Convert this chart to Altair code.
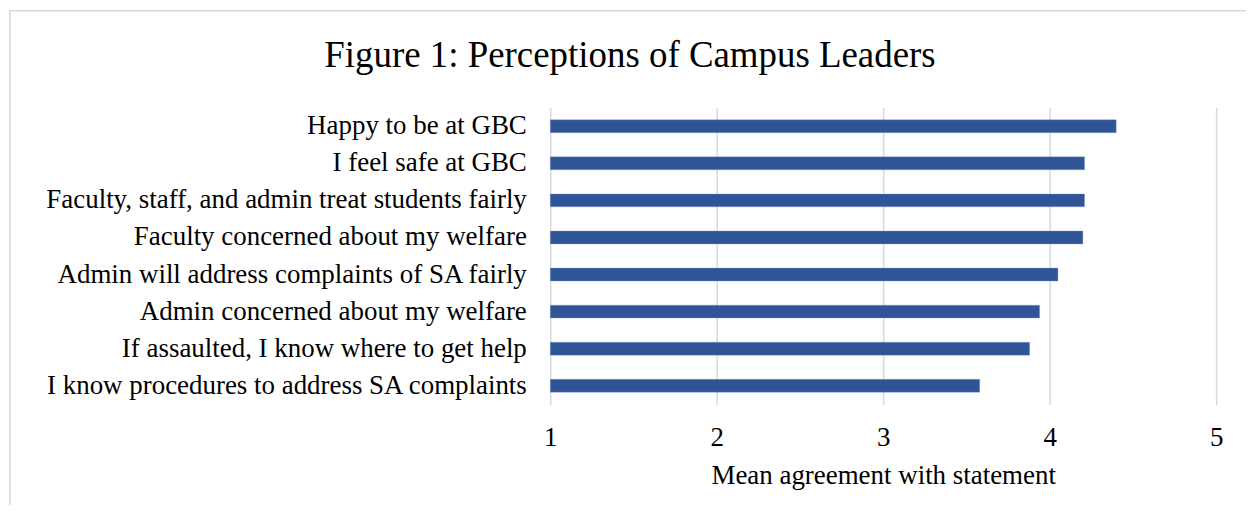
import altair as alt
import pandas as pd

statements = [
    "Happy to be at GBC",
    "I feel safe at GBC",
    "Faculty, staff, and admin treat students fairly",
    "Faculty concerned about my welfare",
    "Admin will address complaints of SA fairly",
    "Admin concerned about my welfare ",
    "If assaulted, I know where to get help",
    "I know procedures to address SA complaints",
]
means = [4.40, 4.21, 4.21, 4.20, 4.05, 3.94, 3.88, 3.58]
ticks = [1, 2, 3, 4, 5]
title_text = ["Figure 1: Perceptions of Campus Leaders"]

df = pd.DataFrame({"statement": statements, "mean": means, "base": [1] * len(means)})
tdf = pd.DataFrame({"t": title_text})

FONT = "Times New Roman"
W, H = 668, 298
FS = 27

bars = alt.Chart(df).mark_bar(color="#2F5597", stroke="#8FA9D6", strokeWidth=0.6, strokeOpacity=0.6).encode(
    y=alt.Y("statement:N", sort=statements, scale=alt.Scale(paddingInner=0.65, paddingOuter=0.33),
            axis=alt.Axis(title=None, domain=False, ticks=False, labelFont=FONT, labelFontSize=FS,
                          labelColor="#000000", labelPadding=24, labelLimit=600)),
    x=alt.X("mean:Q", scale=alt.Scale(domain=[1, 5], nice=False, zero=False),
            axis=alt.Axis(values=ticks, title="Mean agreement with statement", titleFont=FONT,
                          titleFontSize=FS, titleFontWeight="normal", titleColor="#000000", titlePadding=12,
                          labelFont=FONT, labelFontSize=FS, labelColor="#000000", labelPadding=20,
                          labelFlush=False, domain=False, ticks=False, grid=True, gridColor="#D9D9D9",
                          gridWidth=1.5, format="d")),
    x2="base:Q",
)

frame = alt.Chart(tdf).mark_rect(fill=None, stroke="#D9D9D9", strokeWidth=1.5).encode(
    x=alt.value(-542), x2=alt.value(720), y=alt.value(-97), y2=alt.value(420)
)

title = alt.Chart(tdf).mark_text(font=FONT, fontSize=37, color="#000000", align="center",
                                 baseline="middle").encode(
    text="t:N", x=alt.value(80), y=alt.value(-52)
)

chart = alt.layer(frame, bars, title).properties(
    width=W, height=H,
    autosize=alt.AutoSizeParams(type="none"),
    padding={"left": 544, "top": 99, "right": 30, "bottom": 100},
).configure_view(stroke=None)

chart.save("out.html", embed_options={"renderer": "svg", "actions": False})
